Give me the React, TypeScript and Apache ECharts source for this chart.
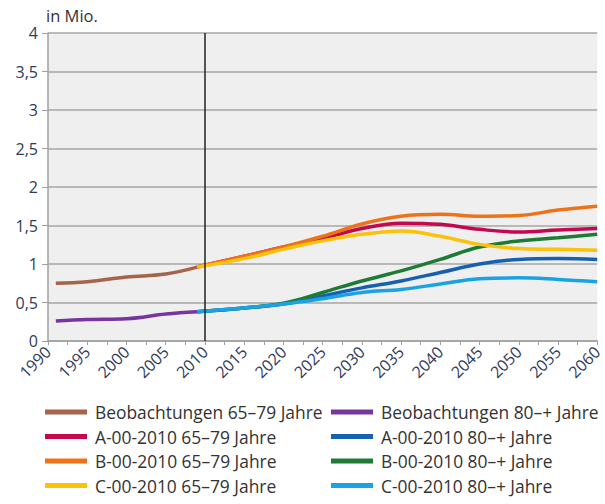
import React, { useEffect, useRef } from "react";
import * as echarts from "echarts";

const obsYears = [1991, 1995, 2000, 2005, 2009];
const projYears = [2009, 2015, 2020, 2025, 2030, 2035, 2040, 2045, 2050, 2055, 2060];

const obs6579 = [0.75, 0.77, 0.83, 0.87, 0.96];
const obs80 = [0.26, 0.28, 0.29, 0.35, 0.38];

const a6579 = [0.96, 1.1, 1.22, 1.33, 1.46, 1.53, 1.515, 1.45, 1.415, 1.44, 1.46];
const b6579 = [0.96, 1.1, 1.22, 1.36, 1.52, 1.62, 1.645, 1.62, 1.63, 1.7, 1.75];
const c6579 = [0.96, 1.07, 1.19, 1.3, 1.385, 1.43, 1.36, 1.255, 1.2, 1.19, 1.18];
const a80 = [0.38, 0.43, 0.48, 0.585, 0.69, 0.78, 0.89, 1.0, 1.06, 1.07, 1.06];
const b80 = [0.38, 0.43, 0.49, 0.63, 0.78, 0.91, 1.06, 1.22, 1.3, 1.34, 1.385];
const c80 = [0.38, 0.43, 0.48, 0.55, 0.63, 0.67, 0.74, 0.81, 0.82, 0.8, 0.77];

const names = [
  "Beobachtungen 65–79 Jahre",
  "Beobachtungen 80–+ Jahre",
  "A-00-2010 65–79 Jahre",
  "A-00-2010 80–+ Jahre",
  "B-00-2010 65–79 Jahre",
  "B-00-2010 80–+ Jahre",
  "C-00-2010 65–79 Jahre",
  "C-00-2010 80–+ Jahre",
];
const colors = ["#a5644b", "#7636a0", "#c3084f", "#1560b0", "#ee7318", "#1e7b36", "#fcc10a", "#19a3e5"];

const zip = (xs: number[], ys: number[]) => xs.map((x, i) => [x, ys[i]]);

export default function App() {
  const ref = useRef<HTMLDivElement>(null);
  useEffect(() => {
    const chart = echarts.init(ref.current!, null, { renderer: "svg" });
    const datasets = [
      zip(obsYears, obs6579),
      zip(obsYears, obs80),
      zip(projYears, a6579),
      zip(projYears, a80),
      zip(projYears, b6579),
      zip(projYears, b80),
      zip(projYears, c6579),
      zip(projYears, c80),
    ];
    const font = "'Open Sans', sans-serif";
    const series: any[] = datasets.map((d, i) => ({
      name: names[i],
      type: "line",
      data: d,
      smooth: 0.4,
      showSymbol: false,
      symbol: "none",
      lineStyle: { width: 3.5, color: colors[i] },
      itemStyle: { color: colors[i] },
      z: 3,
    }));
    series[0].markLine = {
      silent: true,
      symbol: "none",
      label: { show: false },
      lineStyle: { color: "#222", width: 1.5, type: "solid" },
      data: [{ xAxis: 2010 }],
    };
    const legendCommon = {
      orient: "vertical",
      top: 402,
      height: 100,
      padding: 0,
      itemWidth: 42,
      itemHeight: 5,
      itemGap: 4.5,
      icon: "rect",
      textStyle: { fontFamily: font, fontSize: 17.4, lineHeight: 20, color: "#333", padding: [0, 0, 0, 3] },
    };
    chart.setOption({
      animation: false,
      color: colors,
      grid: {
        left: 48,
        right: 2,
        top: 33,
        bottom: 163,
        show: true,
        backgroundColor: "#efefef",
        borderWidth: 0,
      },
      legend: [
        { ...legendCommon, left: 45, data: [names[0], names[2], names[4], names[6]] },
        { ...legendCommon, left: 331, data: [names[1], names[3], names[5], names[7]] },
      ],
      xAxis: {
        type: "value",
        min: 1990,
        max: 2060,
        interval: 5,
        axisLine: { show: true, lineStyle: { color: "#a0a0a0", width: 1.5 } },
        axisTick: { show: true, length: 4, lineStyle: { color: "#a0a0a0" } },
        minorTick: { show: true, splitNumber: 2, length: 4, lineStyle: { color: "#a0a0a0" } },
        splitLine: { show: false },
        axisLabel: {
          rotate: 45,
          fontFamily: font,
          fontSize: 16,
          color: "#2f3b5a",
          margin: 8,
          formatter: (v: number) => String(v),
        },
      },
      yAxis: {
        type: "value",
        min: 0,
        max: 4,
        interval: 0.5,
        name: "in Mio.",
        nameLocation: "end",
        nameGap: 9,
        nameTextStyle: { fontFamily: font, fontSize: 16.5, color: "#333", align: "left", padding: [0, 0, 0, -2] },
        axisLine: { show: true, lineStyle: { color: "#a0a0a0", width: 1.5 } },
        axisTick: { show: true, length: 6, lineStyle: { color: "#a0a0a0" } },
        splitLine: { show: true, lineStyle: { color: "#a6a6a6", width: 1.5 } },
        axisLabel: {
          fontFamily: font,
          fontSize: 16,
          color: "#2f3b5a",
          margin: 10,
          formatter: (v: number) => String(v).replace(".", ","),
        },
      },
      series,
    });
    return () => chart.dispose();
  }, []);
  return <div ref={ref} style={{ width: 605, height: 504, position: "absolute", left: 0, top: 0 }} />;
}
